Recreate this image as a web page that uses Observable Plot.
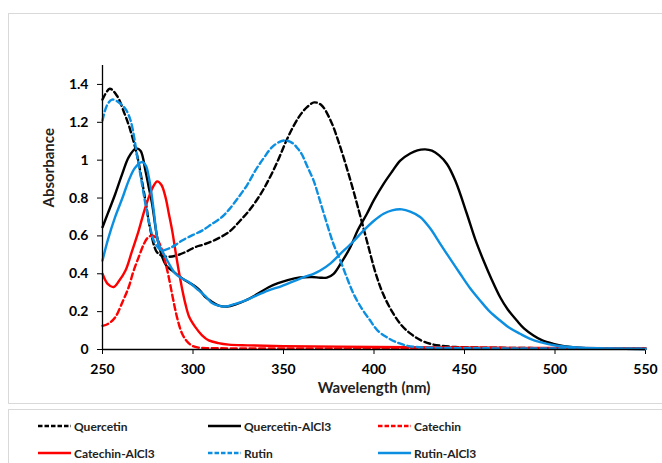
<!DOCTYPE html>
<html>
<head>
<meta charset="utf-8">
<script src="https://cdn.jsdelivr.net/npm/d3@7"></script>
<script src="https://cdn.jsdelivr.net/npm/@observablehq/plot@0.6"></script>
<style>
  html, body { margin: 0; padding: 0; background: #fff; }
  #wrap { position: relative; width: 662px; height: 463px; overflow: hidden; font-family: Lato, "Open Sans", sans-serif; }
  .box { position: absolute; border: 1px solid #d9d9d9; box-sizing: border-box; }
  #chart { position: absolute; left: 0; top: 0; }
  .leg { position: absolute; display: flex; align-items: center; font-size: 12px; font-weight: bold; color: #222; white-space: nowrap; }
  .leg svg { margin-right: 3px; }
</style>
</head>
<body>
<div id="wrap">
  <div class="box" style="left:8px; top:13px; width:700px; height:391px;"></div>
  <div class="box" style="left:8px; top:409px; width:700px; height:70px;"></div>
  <div id="chart"></div>
  <div id="legend"></div>
</div>
<script>
// ---- data ----
const xTicks = [250, 300, 350, 400, 450, 500, 550];
const yTicks = [0, 0.2, 0.4, 0.6, 0.8, 1, 1.2, 1.4];
const seriesNames = ["Quercetin", "Quercetin-AlCl3", "Catechin", "Catechin-AlCl3", "Rutin", "Rutin-AlCl3"];

const quercetinW = [250,254,258,262,265,269,272,274,276.5,280,283,287,292,297,301,306,312,320,326,331,337,342,347,351,355,359,363,367,371,376,381,387,392,396,401,405,410,415,420,426,432,437,445,460,480,500,550];
const quercetinA = [1.32,1.377,1.34,1.25,1.17,1.03,0.88,0.77,0.63,0.515,0.495,0.49,0.50,0.52,0.54,0.555,0.578,0.622,0.68,0.734,0.815,0.90,1.0,1.09,1.17,1.235,1.28,1.305,1.29,1.21,1.08,0.893,0.72,0.576,0.40,0.294,0.20,0.13,0.085,0.048,0.028,0.02,0.013,0.01,0.008,0.007,0.005];

const quercetinAlW = [250,253,257,261,264.5,268.5,271,273.7,275.5,277.4,280.2,283,285.5,288.5,292,295.8,301.3,304,306.9,310,314.2,318.8,324,329,335,341.8,347,352.8,359,365.7,370.3,374,377.7,382,386.9,391,396.1,400,405.3,410,414.5,420,424,428.3,432,436,440.3,445,451.3,456,460.5,465,469.7,474,478.9,483,488.1,493,499.1,505,515,530,550];
const quercetinAlA = [0.646,0.72,0.82,0.93,1.016,1.062,1.05,0.946,0.86,0.77,0.593,0.488,0.44,0.417,0.39,0.364,0.333,0.31,0.276,0.255,0.232,0.227,0.24,0.259,0.29,0.329,0.35,0.368,0.38,0.383,0.379,0.38,0.40,0.46,0.54,0.63,0.717,0.79,0.875,0.94,0.998,1.035,1.052,1.057,1.05,1.025,0.98,0.89,0.717,0.58,0.47,0.37,0.276,0.21,0.153,0.11,0.074,0.048,0.03,0.018,0.008,0.005,0.003];

const catechinW = [250,253,257,261,264.5,267,270,273,275,277.4,280,283,285,286.6,288.5,290.3,292,294,296.5,299.5,303,310,350,450,550];
const catechinA = [0.125,0.135,0.17,0.25,0.33,0.41,0.488,0.56,0.59,0.602,0.585,0.523,0.45,0.382,0.29,0.206,0.14,0.083,0.045,0.02,0.01,0.007,0.006,0.005,0.004];

const catechinAlW = [250,253,256.2,259,262.7,266,270,273,275.6,278,280.2,282.5,284.8,286.6,288.5,290.3,292.1,294,295.8,298,301.3,305,308.7,314,319.7,330,350,380,420,470,550];
const catechinAlA = [0.40,0.345,0.33,0.36,0.417,0.51,0.628,0.73,0.805,0.86,0.888,0.87,0.805,0.72,0.628,0.52,0.417,0.32,0.241,0.17,0.118,0.075,0.048,0.034,0.026,0.022,0.018,0.015,0.012,0.009,0.006];

const rutinW = [250,252.5,255.3,259,262.7,265.5,267.5,269,271,273.7,276,278.3,281,283,287,290,294,300,305,310,316,320,325.2,330,334.5,339,343.7,347.5,351,355,358,360.2,363,366.6,370,374,377.5,381.4,385,388.7,393,397.9,402,407.1,412,418.2,425,440,470,550];
const rutinA = [1.21,1.29,1.32,1.305,1.27,1.21,1.12,1.03,0.92,0.77,0.66,0.576,0.535,0.523,0.535,0.55,0.576,0.605,0.628,0.66,0.70,0.74,0.805,0.87,0.946,1.01,1.069,1.095,1.104,1.09,1.06,1.03,0.97,0.893,0.79,0.664,0.56,0.47,0.38,0.294,0.22,0.153,0.10,0.065,0.04,0.02,0.012,0.008,0.006,0.004];

const rutinAlW = [250,253,257,261,264.5,268,271.9,274,275.6,277,278.3,281,284.8,287.5,290.3,294,297.6,303.2,307,310.5,314,317.9,323,329,335,341.8,349,356.5,362,366.6,370.3,376,381.4,388,394.2,400,405.3,410,415.4,420,425.5,431,436.6,442,447.6,453,458.6,464,469.7,475,480.7,486,491.8,501,515,530,550];
const rutinAlA = [0.47,0.58,0.70,0.80,0.893,0.96,0.99,0.97,0.91,0.83,0.734,0.558,0.488,0.44,0.40,0.375,0.356,0.312,0.28,0.245,0.232,0.227,0.24,0.259,0.285,0.312,0.335,0.364,0.385,0.40,0.417,0.455,0.505,0.565,0.628,0.68,0.717,0.735,0.74,0.728,0.70,0.64,0.558,0.48,0.40,0.325,0.259,0.20,0.153,0.113,0.083,0.058,0.039,0.02,0.009,0.005,0.003];

// ---- build tables ----
const rows = (ws, as) => ws.map((w, i) => ({w, a: as[i]}));
const BLUE = "#0c8fe0";
const series = [
  {name: seriesNames[0], data: rows(quercetinW, quercetinA), color: "#000000", dash: "6,3.5"},
  {name: seriesNames[1], data: rows(quercetinAlW, quercetinAlA), color: "#000000", dash: null},
  {name: seriesNames[2], data: rows(catechinW, catechinA), color: "#ff0000", dash: "6,3.5"},
  {name: seriesNames[3], data: rows(catechinAlW, catechinAlA), color: "#ff0000", dash: null},
  {name: seriesNames[4], data: rows(rutinW, rutinA), color: BLUE, dash: "6,3.5"},
  {name: seriesNames[5], data: rows(rutinAlW, rutinAlA), color: BLUE, dash: null}
];

const chart = Plot.plot({
  width: 662,
  height: 405,
  marginLeft: 102,
  marginRight: 17,
  marginTop: 65,
  marginBottom: 56,
  style: {fontFamily: "Lato, 'Open Sans', sans-serif", fontSize: "14px", fontWeight: "bold", color: "#000", background: "transparent", overflow: "visible"},
  x: {domain: [250, 550], ticks: xTicks, tickSize: 5, tickPadding: 10, label: null},
  y: {domain: [0, 1.5], ticks: yTicks, tickSize: 5, tickPadding: 9, label: null, tickFormat: d => String(+d.toFixed(1))},
  marks: [
    ...series.map(s => Plot.line(s.data, {
      x: "w", y: "a", stroke: s.color, strokeWidth: 2.4,
      strokeDasharray: s.dash || undefined, curve: "catmull-rom"
    })),
    Plot.ruleX([250], {stroke: "#000", strokeWidth: 1.3}),
    Plot.ruleY([0], {stroke: "#000", strokeWidth: 1.3}),
    Plot.text(["Absorbance"], {frameAnchor: "left", dx: -53, rotate: -90, fontSize: 15, fontWeight: "bold", fill: "#222"}),
    Plot.text(["Wavelength (nm)"], {frameAnchor: "bottom", dy: 38.5, lineAnchor: "middle", fontSize: 15, fontWeight: "bold", fill: "#222"})
  ]
});
document.getElementById("chart").appendChild(chart);

// ---- legend ----
const legendPos = [
  {left: 38, top: 426}, {left: 208, top: 426}, {left: 378, top: 426},
  {left: 38, top: 453}, {left: 208, top: 453}, {left: 378, top: 453}
];
const legend = document.getElementById("legend");
series.forEach((s, i) => {
  const p = legendPos[i];
  const div = document.createElement("div");
  div.className = "leg";
  div.style.left = p.left + "px";
  div.style.top = (p.top - 10) + "px";
  div.style.height = "20px";
  div.innerHTML = `<svg width="33" height="6"><line x1="0" x2="33" y1="3" y2="3" stroke="${s.color}" stroke-width="2.4" ${s.dash ? `stroke-dasharray="4.5,2"` : ""}/></svg><span>${s.name}</span>`;
  legend.appendChild(div);
});
</script>
</body>
</html>
